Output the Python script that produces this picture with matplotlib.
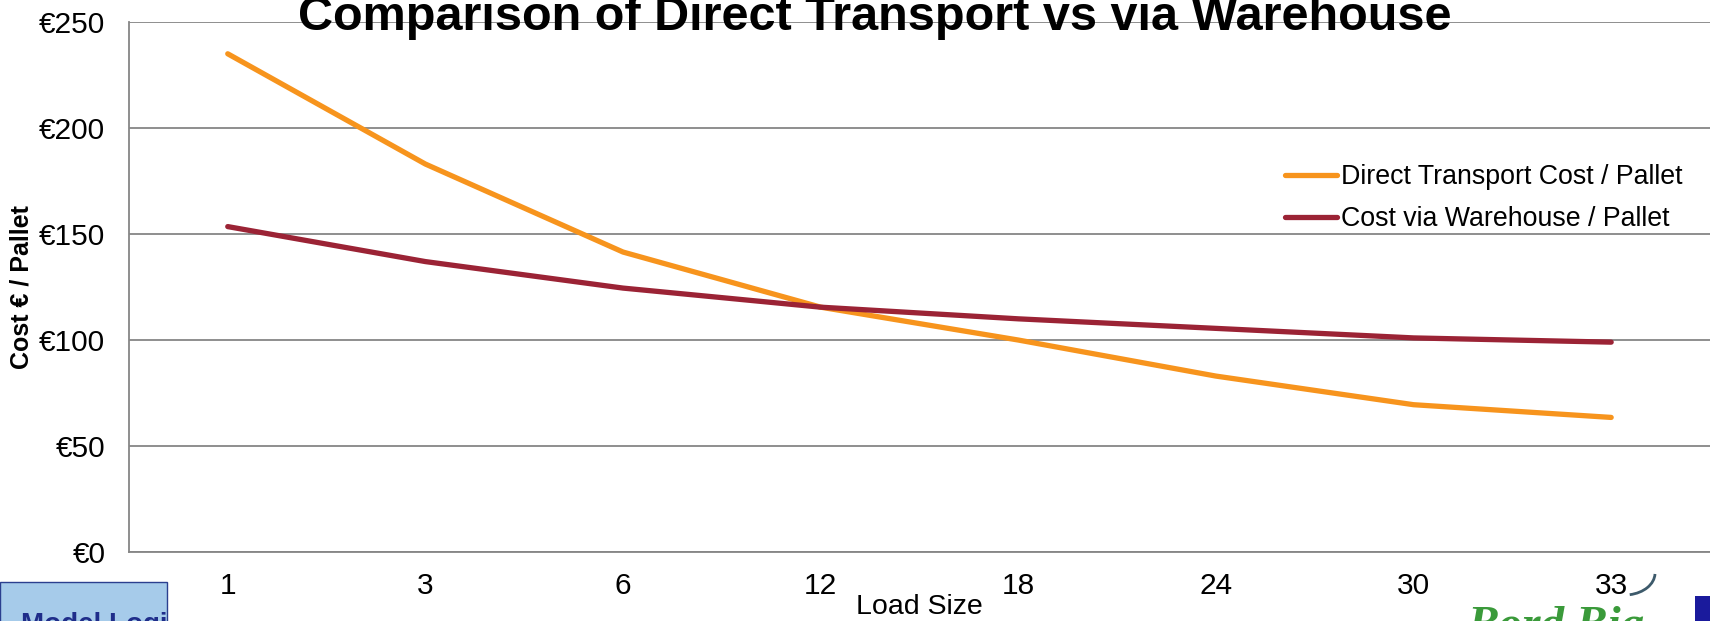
import matplotlib
matplotlib.use("Agg")
import matplotlib.pyplot as plt
from matplotlib.patches import Rectangle, Arc
from matplotlib.ticker import FuncFormatter

load_sizes = ["1", "3", "6", "12", "18", "24", "30", "33"]
direct_cost = [235, 183, 141.5, 115.5, 100, 83, 69.5, 63.5]
warehouse_cost = [153.5, 137, 124.5, 115.5, 110, 105.5, 101, 99]

plt.rcParams['font.family'] = ['Liberation Sans', 'DejaVu Sans']

fig = plt.figure(figsize=(17.1, 6.21), dpi=100)
ax = fig.add_axes([0.0754, 0.111, 0.9246, 0.8536])

x = range(len(load_sizes))
ax.plot(x, direct_cost, color='#f7941d', lw=3.8, label='Direct Transport Cost / Pallet',
        solid_capstyle='round', zorder=3)
ax.plot(x, warehouse_cost, color='#9b2335', lw=3.8, label='Cost via Warehouse / Pallet',
        solid_capstyle='round', zorder=3)

ax.set_xlim(-0.5, len(load_sizes) - 0.5)
ax.set_ylim(0, 250)
ax.set_yticks([0, 50, 100, 150, 200, 250])
ax.yaxis.set_major_formatter(FuncFormatter(lambda v, p: f"€{v:.0f}"))
ax.set_xticks(list(x))
ax.set_xticklabels(load_sizes)
ax.tick_params(axis='both', length=0, labelsize=21.5)
ax.tick_params(axis='y', pad=17)
ax.tick_params(axis='x', pad=14)
ax.grid(axis='y', color='#868686', lw=1.3)
ax.set_axisbelow(True)
for s in ['top', 'right']:
    ax.spines[s].set_visible(False)
for s in ['left', 'bottom']:
    ax.spines[s].set_color('#868686')
    ax.spines[s].set_linewidth(1.3)

ax.set_ylabel('Cost € / Pallet', fontsize=18, fontweight='bold')
ax.yaxis.set_label_coords(-0.0605, 0.5)
ax.set_xlabel('Load Size', fontsize=20.5, labelpad=-4)

leg = ax.legend(loc='center left', bbox_to_anchor=(0.731, 0.668), frameon=False, fontsize=19.3,
                handlelength=1.95, handletextpad=0.15, labelspacing=0.6,
                borderpad=0, borderaxespad=0)

fig.text(0.5115, 0.952, 'Comparison of Direct Transport vs via Warehouse', ha='center',
         va='baseline', fontsize=35, fontweight='bold')

# bits of slide furniture cut off at the bottom
box = Rectangle((0, -0.05), 0.0975, 0.112, transform=fig.transFigure,
                facecolor='#a6cbea', edgecolor='#2b3f8f', lw=1)
fig.patches.append(box)
t = fig.text(0.012, -0.018, 'Model Logistics', fontsize=20, fontweight='bold', color='#1f2d8a')
t.set_clip_path(box)
fig.text(0.858, -0.027, 'Bord Bia', fontsize=34, style='italic', fontweight='bold',
         color='#3a9a3a', family='Liberation Serif')
fig.patches.append(Arc((0.950, 0.0773), 0.0357, 0.0709, theta1=275, theta2=355,
                       transform=fig.transFigure, color='#3d5a6b', lw=2))
fig.patches.append(Rectangle((0.991, -0.05), 0.02, 0.09, transform=fig.transFigure,
                             facecolor='#1a1a9c', edgecolor='none'))

fig.savefig('out.png', dpi=100)
